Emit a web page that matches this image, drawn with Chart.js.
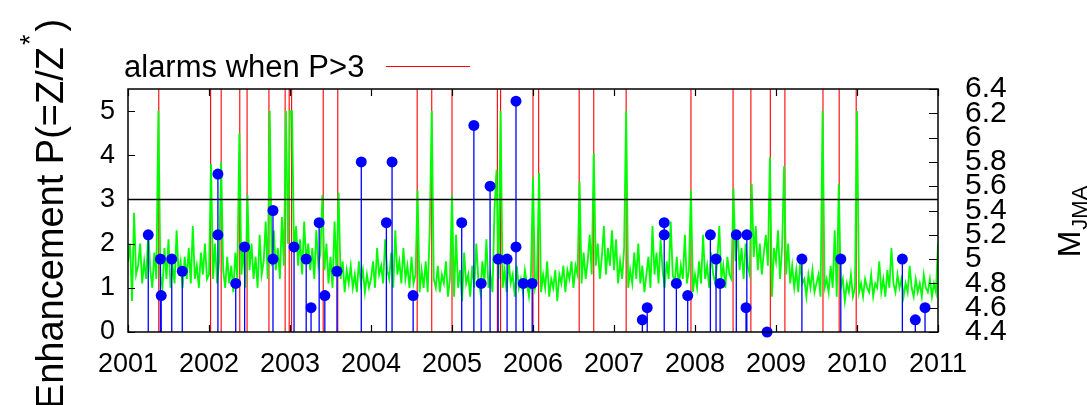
<!DOCTYPE html>
<html>
<head>
<meta charset="utf-8">
<script src="https://cdn.jsdelivr.net/npm/chart.js@4.4.1/dist/chart.umd.min.js"></script>
<style>
  body { margin: 0; background: #fff; }
  #wrap { width: 1087px; height: 405px; }
</style>
</head>
<body>
<div id="wrap"><canvas id="c" width="1087" height="405"></canvas></div>
<script>
// tick labels
const yearTicks = [2001, 2002, 2003, 2004, 2005, 2006, 2007, 2008, 2009, 2010, 2011];
const pTicks = [0, 1, 2, 3, 4, 5];
const magTicks = [4.4, 4.6, 4.8, 5, 5.2, 5.4, 5.6, 5.8, 6, 6.2, 6.4];

// enhancement P, one value every 0.025 yr from 2001.0
const greenStart = 2001;
const greenStep = 0.025;
const greenP = [
  // 2001
  1.6,2.0,0.7,2.7,1.3,1.5,2.0,1.1,1.6,1.2,
  2.3,1.4,1.0,1.8,1.2,5.0,1.3,1.0,1.9,1.2,
  2.1,1.0,1.5,1.1,2.3,1.3,1.6,1.0,1.7,1.2,
  1.9,1.1,2.4,1.2,1.5,1.0,1.8,1.3,2.0,1.2,
  // 2002
  1.3,3.8,1.2,2.0,1.1,1.6,3.85,1.4,1.0,1.7,
  1.1,1.5,0.9,1.8,1.2,4.5,1.3,1.9,1.0,3.1,
  1.4,2.0,1.2,1.7,1.0,2.2,1.3,1.6,2.5,1.2,
  5.0,1.5,2.3,1.4,1.9,1.2,2.6,1.5,5.0,2.0,
  // 2003
  5.0,5.0,1.8,2.4,1.5,2.1,1.3,2.5,1.6,2.0,
  1.4,1.9,1.2,2.3,1.5,1.8,3.1,1.4,2.0,1.1,
  1.7,1.0,2.5,1.3,3.15,1.2,1.6,0.9,1.4,1.1,
  1.5,1.0,1.3,0.9,1.6,1.1,1.4,0.9,1.3,1.0,
  // 2004
  1.2,1.6,1.0,1.9,1.3,1.5,1.1,2.1,1.4,1.2,
  1.8,1.0,2.3,1.3,1.6,1.1,1.9,1.2,1.5,1.0,
  1.7,1.1,1.3,3.2,0.9,1.4,1.0,1.6,0.9,2.3,
  5.0,1.2,1.0,1.5,0.9,1.3,1.1,1.6,0.8,1.2,
  // 2005
  3.1,0.8,2.2,1.0,1.4,0.7,1.8,1.1,1.3,0.8,
  1.5,1.0,2.0,1.2,0.9,1.6,1.1,2.1,1.0,1.3,
  0.9,2.8,3.67,1.2,5.0,1.0,1.4,0.9,1.6,1.1,
  1.3,0.8,1.5,1.0,1.2,0.9,1.4,1.1,0.8,1.3,
  // 2006
  3.5,1.0,1.2,3.6,0.9,1.3,1.0,1.6,0.8,1.2,
  1.0,1.4,0.7,1.3,1.1,1.5,0.9,1.4,1.2,1.6,
  1.0,1.5,1.3,3.4,1.1,1.8,1.2,1.6,2.2,1.3,
  4.05,1.5,2.0,1.2,1.7,2.4,1.3,1.9,1.5,2.3,
  // 2007
  1.4,2.1,1.1,1.6,1.2,1.9,5.0,1.0,1.4,1.1,
  1.8,1.2,2.0,1.1,1.5,0.9,1.3,1.7,1.0,2.4,
  1.3,1.8,1.1,2.1,1.4,1.0,1.6,1.2,2.5,1.3,
  1.1,1.7,1.0,1.5,1.2,2.2,1.1,1.4,3.2,0.9,
  // 2008
  1.3,1.0,1.6,1.1,2.2,1.2,1.5,1.0,1.8,1.3,
  1.1,1.6,2.4,1.2,1.5,1.0,1.7,1.3,1.2,3.25,
  1.6,2.3,1.4,1.9,1.2,2.0,1.5,1.3,3.35,1.7,
  2.4,1.4,2.0,1.3,1.8,2.2,1.5,3.95,0.8,1.9,
  // 2009
  1.6,2.3,1.2,1.9,3.75,1.3,2.0,1.1,1.5,1.0,
  1.4,0.9,1.6,1.1,1.2,0.8,1.3,1.0,1.4,0.9,
  1.1,1.3,0.8,5.0,1.0,1.2,0.9,1.5,1.0,2.3,
  0.8,3.35,1.0,1.2,0.7,1.1,0.9,1.3,0.8,1.0,
  // 2010
  5.0,0.9,1.1,0.8,1.2,1.0,0.9,1.3,0.8,1.1,
  1.0,1.6,0.9,1.2,0.8,1.4,1.0,1.9,1.1,0.9,
  1.3,1.0,1.2,0.8,1.1,0.9,1.5,1.0,0.8,1.2,
  0.9,1.1,0.8,1.3,1.0,0.9,1.2,0.8,1.1,0.9,
  2.0
];

// alarm times (P>3)
const alarmT = [2001.38, 2002.02, 2002.15, 2002.38, 2002.47, 2002.74, 2002.94, 2002.99, 2003.02,
  2003.41, 2003.59, 2004.57, 2004.75, 2005.00, 2005.56, 2005.60, 2006.00, 2006.07, 2006.57,
  2006.75, 2007.15, 2007.95, 2008.47, 2008.69, 2008.93, 2009.11, 2009.58, 2009.78, 2009.99];

// earthquakes: time and magnitude
const quakeT = [2001.25, 2001.40, 2001.41, 2001.54, 2001.67, 2002.11, 2002.11, 2002.33, 2002.44,
  2002.79, 2002.79, 2003.05, 2003.20, 2003.26, 2003.36, 2003.43, 2003.58, 2003.88, 2004.19,
  2004.26, 2004.52, 2005.12, 2005.27, 2005.36, 2005.47, 2005.57, 2005.68, 2005.79, 2005.79,
  2005.88, 2005.99, 2007.35, 2007.41, 2007.62, 2007.62, 2007.77, 2007.91, 2008.19, 2008.26,
  2008.31, 2008.51, 2008.64, 2008.63, 2008.89, 2009.32, 2009.80, 2010.56, 2010.72, 2010.84];
const quakeM = [5.2, 5.0, 4.7, 5.0, 4.9, 5.7, 5.2, 4.8, 5.1,
  5.4, 5.0, 5.1, 5.0, 4.6, 5.3, 4.7, 4.9, 5.8, 5.3,
  5.8, 4.7, 5.3, 6.1, 4.8, 5.6, 5.0, 5.0, 5.1, 6.3,
  4.8, 4.8, 4.5, 4.6, 5.3, 5.2, 4.8, 4.7, 5.2, 5.0,
  4.8, 5.2, 5.2, 4.6, 4.4, 5.0, 5.0, 5.0, 4.5, 4.6];

const threshold = 3;

const FONT = 'Liberation Sans, Arial, Helvetica, sans-serif';

const greenData = greenP.map((p, i) => ({ x: greenStart + i * greenStep, y: p }));

const alarmData = [];
alarmT.forEach(t => {
  alarmData.push({ x: t, y: 0 }, { x: t, y: 5.5 }, { x: t, y: null });
});

const stemData = [];
quakeT.forEach((t, i) => {
  stemData.push({ x: t, y: 4.4 }, { x: t, y: quakeM[i] }, { x: t, y: null });
});
const quakeData = quakeT.map((t, i) => ({ x: t, y: quakeM[i] }));

const decor = {
  id: 'decor',
  afterDraw(chart) {
    const ctx = chart.ctx;
    const a = chart.chartArea;
    const xs = chart.scales.x, ys = chart.scales.y, y2 = chart.scales.y2;
    ctx.save();
    ctx.strokeStyle = '#000';
    ctx.lineWidth = 1.5;
    ctx.strokeRect(a.left, a.top, a.right - a.left, a.bottom - a.top);

    // inward ticks
    ctx.beginPath();
    yearTicks.forEach(v => {
      const x = Math.round(xs.getPixelForValue(v)) + 0.5;
      ctx.moveTo(x, a.bottom); ctx.lineTo(x, a.bottom - 7);
      ctx.moveTo(x, a.top); ctx.lineTo(x, a.top + 7);
    });
    pTicks.forEach(v => {
      const y = Math.round(ys.getPixelForValue(v)) + 0.5;
      ctx.moveTo(a.left, y); ctx.lineTo(a.left + 7, y);
    });
    magTicks.forEach(v => {
      const y = Math.round(y2.getPixelForValue(v)) + 0.5;
      ctx.moveTo(a.right, y); ctx.lineTo(a.right - 9, y);
    });
    ctx.lineWidth = 1.2;
    ctx.stroke();

    // legend
    ctx.fillStyle = '#000';
    ctx.font = '31px ' + FONT;
    ctx.textBaseline = 'alphabetic';
    ctx.textAlign = 'left';
    ctx.fillText('alarms when P>3', 124, 77);
    ctx.strokeStyle = '#ff0000';
    ctx.lineWidth = 1;
    ctx.beginPath();
    ctx.moveTo(386, 66.5); ctx.lineTo(470, 66.5);
    ctx.stroke();

    // left axis title
    ctx.save();
    ctx.translate(63, 214);
    ctx.rotate(-Math.PI / 2);
    const t1 = 'Enhancement P(=Z/Z';
    const t3 = ')';
    ctx.font = '38px ' + FONT;
    const w1 = ctx.measureText(t1).width;
    ctx.font = '27px ' + FONT;
    const w2 = ctx.measureText('*').width + 5;
    ctx.font = '38px ' + FONT;
    const w3 = ctx.measureText(t3).width;
    const x0 = -(w1 + w2 + w3) / 2;
    ctx.fillText(t1, x0, 0);
    ctx.font = '27px ' + FONT;
    ctx.fillText('*', x0 + w1 + 2, -24);
    ctx.font = '38px ' + FONT;
    ctx.fillText(t3, x0 + w1 + w2, 0);
    ctx.restore();

    // right axis title
    ctx.save();
    ctx.translate(1080, 222);
    ctx.rotate(-Math.PI / 2);
    ctx.font = '32px ' + FONT;
    const wm = ctx.measureText('M').width;
    ctx.font = '22px ' + FONT;
    const ws = ctx.measureText('JMA').width;
    const s0 = -(wm + ws) / 2;
    ctx.font = '32px ' + FONT;
    ctx.fillText('M', s0, 0);
    ctx.font = '22px ' + FONT;
    ctx.fillText('JMA', s0 + wm + 1, 7);
    ctx.restore();

    ctx.restore();
  }
};

new Chart(document.getElementById('c'), {
  type: 'line',
  data: {
    datasets: [
      {
        type: 'scatter', data: quakeData, yAxisID: 'y2', order: 0,
        backgroundColor: '#0000ff', borderColor: '#0000ff',
        pointRadius: 5.5, pointHoverRadius: 5.5, borderWidth: 0, clip: false
      },
      {
        data: stemData, yAxisID: 'y2', order: 1,
        borderColor: '#0000ff', borderWidth: 1.3, pointRadius: 0, spanGaps: false
      },
      {
        data: [{ x: 2001, y: threshold }, { x: 2011, y: threshold }], yAxisID: 'y', order: 2,
        borderColor: '#000', borderWidth: 1.5, pointRadius: 0
      },
      {
        data: greenData, yAxisID: 'y', order: 3,
        borderColor: '#00ff00', borderWidth: 1.8, pointRadius: 0, tension: 0
      },
      {
        data: alarmData, yAxisID: 'y', order: 4,
        borderColor: '#ff0000', borderWidth: 1.1, pointRadius: 0, spanGaps: false
      }
    ]
  },
  options: {
    responsive: false,
    animation: false,
    devicePixelRatio: 1,
    layout: { padding: { top: 89, left: 0, right: 0, bottom: 0 } },
    plugins: { legend: { display: false }, tooltip: { enabled: false } },
    scales: {
      x: {
        type: 'linear', min: 2001, max: 2011,
        afterBuildTicks: s => { s.ticks = yearTicks.map(v => ({ value: v })); },
        afterFit: s => { s.height = 73; },
        grid: { display: false, drawTicks: false },
        border: { display: false },
        ticks: {
          autoSkip: false, maxRotation: 0, padding: 16, color: '#000',
          font: { size: 27, family: FONT },
          callback: v => String(v)
        }
      },
      y: {
        position: 'left', min: 0, max: 5.5,
        afterBuildTicks: s => { s.ticks = pTicks.map(v => ({ value: v })); },
        afterFit: s => { s.width = 128; },
        grid: { display: false, drawTicks: false },
        border: { display: false },
        ticks: {
          autoSkip: false, padding: 13, color: '#000',
          font: { size: 27, family: FONT },
          callback: v => String(v)
        }
      },
      y2: {
        position: 'right', min: 4.4, max: 6.4,
        afterBuildTicks: s => { s.ticks = magTicks.map(v => ({ value: v })); },
        afterFit: s => { s.width = 149; },
        grid: { display: false, drawTicks: false },
        border: { display: false },
        ticks: {
          autoSkip: false, padding: 27, color: '#000',
          font: { size: 30, family: FONT },
          callback: v => String(v)
        }
      }
    }
  },
  plugins: [decor]
});
</script>
</body>
</html>
